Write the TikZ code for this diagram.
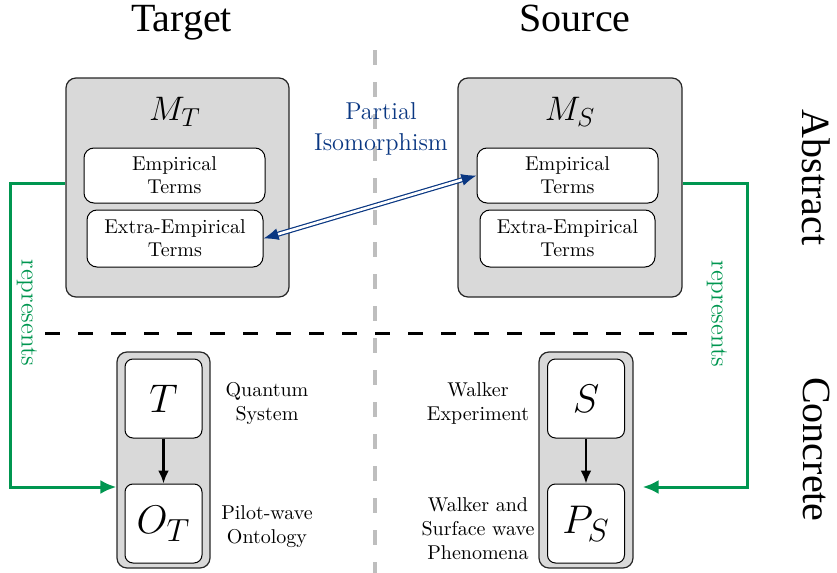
\RequirePackage{fix-cm}
\documentclass[tikz,border=0pt]{standalone}
\usepackage{fontspec}
\newfontfamily\titlefont{Liberation Serif}
\usetikzlibrary{arrows.meta,calc}
\definecolor{repgreen}{RGB}{0,150,80}
\definecolor{isoblue}{RGB}{10,55,130}
\definecolor{boxgray}{RGB}{217,217,217}
\definecolor{divgray}{RGB}{190,190,190}
\newcommand{\mysub}[3]{#1_{\mbox{\fontsize{#3}{#3}\selectfont$#2$}}}
\begin{document}
\begin{tikzpicture}[x=0.5pt,y=-0.5pt,
  outerbox/.style={draw=black!85, fill=boxgray, rounded corners=5pt, line width=0.6pt, inner sep=0pt},
  innerbox/.style={draw=black, fill=white, rounded corners=5pt, line width=0.5pt, align=center, inner sep=0pt, font=\fontsize{10}{11.5}\selectfont},
  varbox/.style={draw=black, fill=white, rounded corners=4pt, line width=0.5pt, inner sep=0pt, minimum width=38.5pt, minimum height=39.5pt, font=\fontsize{20}{24}\selectfont},
  sidelabel/.style={align=center, font=\fontsize{10}{12}\selectfont},
  titlelabel/.style={font=\titlefont\fontsize{20}{24}\selectfont, inner sep=0pt},
  replabel/.style={text=repgreen, font=\fontsize{12.5}{15}\selectfont, rotate=-90},
  isolabel/.style={text=isoblue, align=center, font=\fontsize{12.2}{15.5}\selectfont},
  repline/.style={draw=repgreen, line width=1.5pt, -{Latex[length=8pt,width=7pt]}},
  flow/.style={draw=black, line width=1.4pt, -{Latex[length=6.5pt,width=5.5pt]}},
  isoline/.style={draw=isoblue, double=white, double distance=1.3pt, line width=0.6pt, {Latex[length=7.5pt,width=6pt]}-{Latex[length=7.5pt,width=6pt]}}
]
\useasboundingbox (0,0) rectangle (837,573);

% dividers
\draw[divgray, line width=1.6pt, dash pattern=on 7.5pt off 8.5pt] (375,50) -- (375,573);
\draw[black, line width=1.5pt, dash pattern=on 7.5pt off 9pt] (45,333) -- (692,333);

% titles
\node[titlelabel, anchor=base] (ttarget) at (181.5,32) {Target};
\node[titlelabel, anchor=base] (tsource) at (575,32) {Source};
\node[titlelabel, anchor=base, rotate=-90] (tabs) at (802,177.5) {Abstract};
\node[titlelabel, anchor=base, rotate=-90] (tcon) at (803,449.5) {Concrete};

% abstract models
\node[outerbox, minimum width=111.5pt, minimum height=109.5pt] (MT) at (177.5,187.5) {};
\node[font=\fontsize{17}{20}\selectfont] (MTl) at (175,112) {$\mysub{M}{T}{13}$};
\node[innerbox, minimum width=90.5pt, minimum height=27.5pt] (ET) at (174.5,175.5) {Empirical\\Terms};
\node[innerbox, minimum width=88pt, minimum height=28.5pt] (XT) at (175,238.5) {Extra-Empirical\\Terms};

\node[outerbox, minimum width=112pt, minimum height=109.5pt] (MS) at (570,187.5) {};
\node[font=\fontsize{17}{20}\selectfont] (MSl) at (570,112) {$\mysub{M}{S}{13}$};
\node[innerbox, minimum width=90.5pt, minimum height=27.5pt] (ES) at (567.5,175.5) {Empirical\\Terms};
\node[innerbox, minimum width=87.5pt, minimum height=28.5pt] (XS) at (567.5,238.5) {Extra-Empirical\\Terms};

\node[isolabel] (iso) at (381,129) {Partial\\Isomorphism};
\draw[isoline] (XT.east) -- (ES.west);

% concrete systems
\node[outerbox, minimum width=46.5pt, minimum height=108pt] (Tout) at (163.5,460) {};
\node[varbox] (T) at (163.5,398.5) {$T$};
\node[varbox] (OT) at (163.5,523.5) {$\mysub{O}{T}{16}$};
\draw[flow] (T) -- (OT);

\node[outerbox, minimum width=47pt, minimum height=108pt] (Sout) at (586,460) {};
\node[varbox] (S) at (586,398.5) {$S$};
\node[varbox] (PS) at (586,523.5) {$\mysub{P}{S}{16}$};
\draw[flow] (S) -- (PS);

\node[sidelabel] (qs) at (267,403) {Quantum\\System};
\node[sidelabel] (pw) at (267,527) {Pilot-wave\\Ontology};
\node[sidelabel] (we) at (478,403) {Walker\\Experiment};
\node[sidelabel] (ws) at (478,529) {Walker and\\Surface wave\\Phenomena};

% represents arrows
\coordinate (lc) at (10,487);
\coordinate (rc) at (747,487);
\draw[repline] ([yshift=2.25pt]MT.west) -| (lc) -- (lc -| Tout.west);
\draw[repline, shorten >=4.5pt] ([yshift=2.25pt]MS.east) -| (rc) -- (rc -| Sout.east);
\node[replabel] (rl) at (27,313) {represents};
\node[replabel] (rr) at (717,314) {represents};
\end{tikzpicture}
\end{document}
